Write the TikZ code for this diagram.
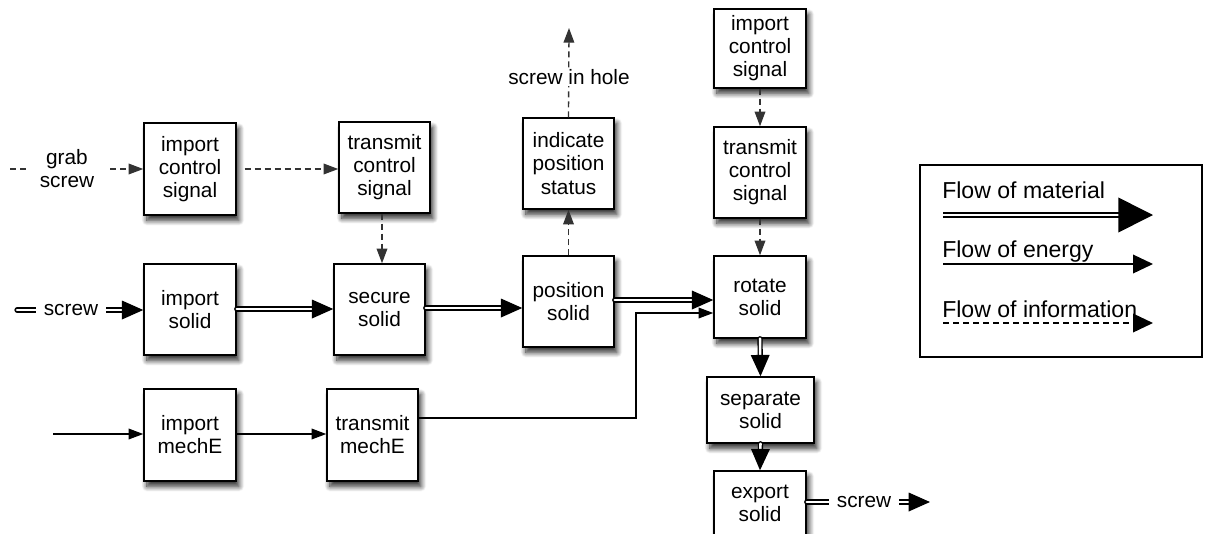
\documentclass[tikz,border=0pt]{standalone}
\usepackage{fontspec}
\setmainfont{Liberation Sans}
\usetikzlibrary{arrows.meta,shadows.blur,calc}
\newcommand{\boxfont}{\fontsize{15.6}{17.3}\selectfont}
\newcommand{\legfont}{\fontsize{17.3}{19}\selectfont}
\begin{document}
\begin{tikzpicture}[x=0.75pt,y=-0.75pt,
  fbox/.style 2 args={draw, line width=1.1pt, fill=white, align=center, font=\boxfont,
    inner sep=0pt, minimum width=#1, minimum height=#2,
    blur shadow={shadow xshift=2.2pt, shadow yshift=-4pt, shadow blur radius=4pt, shadow blur steps=10, shadow opacity=85}},
  lbl/.style={fill=white, align=center, font=\boxfont, inner xsep=6pt, inner ysep=1pt},
  mat/.style={double=white, line width=1pt, double distance=1.9pt, line cap=round,
    -{Triangle[length=16pt, width=14pt]}},
  energy/.style={line width=1pt, -{Triangle[length=11pt, width=8pt]}},
  info/.style={line width=1pt, black!80, dash pattern=on 4.5pt off 3pt, -{Triangle[length=11pt, width=8pt]}},
]
\useasboundingbox (0,0) rectangle (1206,533);

% boxes
\node[fbox={69pt}{69pt}] (ics1) at (190,169) {import\\control\\signal};
\node[fbox={68.25pt}{68.25pt}] (tcs1) at (384.5,167.5) {transmit\\control\\signal};
\node[fbox={69pt}{68.25pt}] (isol) at (190,309.5) {import\\solid};
\node[fbox={68.25pt}{68.25pt}] (ssol) at (379.5,309.5) {secure\\solid};
\node[fbox={68.25pt}{68.25pt}] (ips) at (568.5,163.5) {indicate\\position\\status};
\node[fbox={68.25pt}{68.25pt}] (psol) at (568.5,301.5) {position\\solid};
\node[fbox={69pt}{59.25pt}] (ics2) at (760,48.5) {import\\control\\signal};
\node[fbox={69pt}{68.25pt}] (tcs2) at (760,172.5) {transmit\\control\\signal};
\node[fbox={69pt}{61.5pt}] (rsol) at (760,297) {rotate\\solid};
\node[fbox={80.25pt}{49.5pt}] (sep) at (760.5,410) {separate\\solid};
\node[fbox={69pt}{48pt}] (exp) at (760,503) {export\\solid};
\node[fbox={69pt}{69pt}] (imech) at (190,435) {import\\mechE};
\node[fbox={68.25pt}{69pt}] (tmech) at (372.5,435) {transmit\\mechE};

% free ends
\coordinate (grabin) at (10,169);
\coordinate (screwin) at (17,310);
\coordinate (mechin) at (53,434);
\coordinate (holeout) at (569,28);
\coordinate (screwout) at (930,502);
\coordinate (elbowA) at (636,418);
\coordinate (elbowB) at (636,313);

% information flows
\draw[info] (grabin) -- (grabin -| ics1.west);
\node[lbl, inner xsep=9pt] (grab) at (67,169) {grab\\screw};
\draw[info, shorten <=6pt] (ics1.east |- 0,169) -- (tcs1.west |- 0,169);
\draw[info] (tcs1.south -| 382,0) -- (ssol.north -| 382,0);
\draw[info] (psol.north) -- (ips.south);
\draw[info] (ips.north) -- (holeout);
\node[lbl, inner xsep=1pt] (hole) at (569,77) {screw in hole};
\draw[info] (ics2.south) -- (tcs2.north);
\draw[info] (tcs2.south) -- (rsol.north);

% material flows
\draw[mat] (screwin) -- (screwin -| isol.west);
\node[lbl] (screwlbl) at (71,310) {screw};
\draw[mat] (isol.east |- 0,309) -- (ssol.west |- 0,309);
\draw[mat] (ssol.east |- 0,308) -- (psol.west |- 0,308);
\draw[mat] (psol.east |- 0,300) -- (rsol.west |- 0,300);
\draw[mat] (rsol.south) -- (sep.north);
\draw[mat] (sep.south) -- (exp.north);
\draw[mat] (exp.east |- screwout) -- (screwout);
\node[lbl] (screwlbl2) at (864,502) {screw};

% energy flows
\draw[energy] (mechin) -- (mechin -| imech.west);
\draw[energy] (imech.east |- 0,434) -- (tmech.west |- 0,434);
\draw[energy] (tmech.east |- elbowA) -| (elbowB) -- (elbowB -| rsol.west);

% legend
\node[draw, line width=1pt, minimum width=211.5pt, minimum height=144pt, inner sep=0pt] (legend) at (1061,261) {};
\node[anchor=base west, font=\legfont, inner sep=0pt] (lt1) at (942,198) {Flow of material};
\node[anchor=base west, font=\legfont, inner sep=0pt] (lt2) at (942,257) {Flow of energy};
\node[anchor=base west, font=\legfont, inner sep=0pt] (lt3) at (942,317) {Flow of information};
\coordinate (lm1) at (943,215); \coordinate (lm2) at (1153,215);
\coordinate (le1) at (943,264); \coordinate (le2) at (1153,264);
\coordinate (li1) at (943,323); \coordinate (li2) at (1153,323);
\draw[double=white, line width=1.2pt, double distance=1.5pt, -{Triangle[length=26pt, width=26pt]}] (lm1) -- (lm2);
\draw[line width=1.1pt, -{Triangle[length=15pt, width=14pt]}] (le1) -- (le2);
\draw[line width=1.1pt, dash pattern=on 4.5pt off 3pt, -{Triangle[length=15pt, width=14pt]}] (li1) -- (li2);
\end{tikzpicture}
\end{document}
